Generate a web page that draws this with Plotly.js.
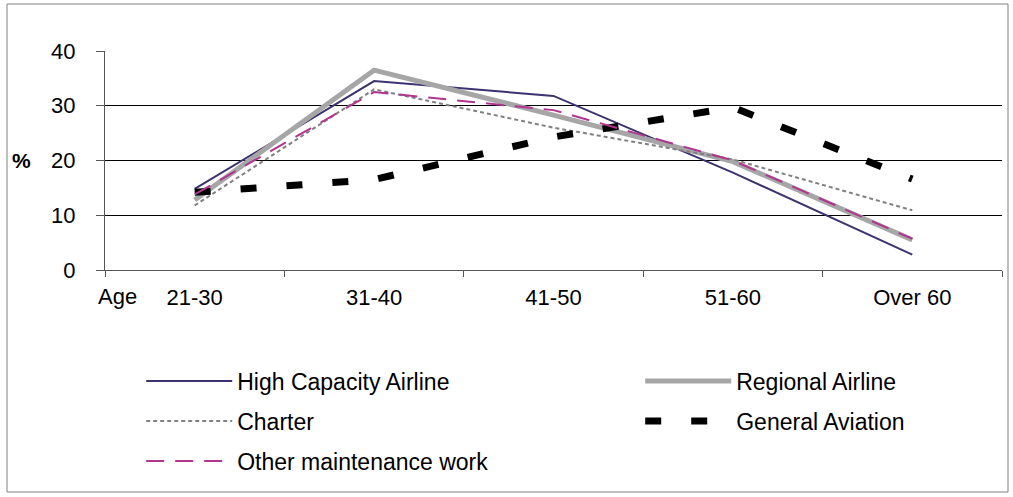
<!DOCTYPE html>
<html>
<head>
<meta charset="utf-8">
<script src="https://cdn.plot.ly/plotly-3.0.1.min.js"></script>
<style>
  html, body { margin: 0; padding: 0; background: #fff; }
  #chart { width: 1013px; height: 497px; }
</style>
</head>
<body>
<div id="chart"></div>
<script>
var ageGroups = ['21-30', '31-40', '41-50', '51-60', 'Over 60'];
var highCapacity = [14.8, 34.5, 31.8, 17.8, 2.8];
var regional = [12.8, 36.5, 28.3, 19.8, 5.5];
var charter = [11.8, 33.0, 26.0, 20.2, 10.9];
var generalAviation = [14.2, 16.5, 24.3, 29.7, 16.6];
var otherMaintenance = [13.8, 32.5, 29.2, 20.0, 5.7];
var yTicks = [0, 10, 20, 30, 40];

var FONT = 'Arial, "Liberation Sans", sans-serif';

var traces = [
  {x: ageGroups, y: highCapacity, name: 'High Capacity Airline', mode: 'lines',
   line: {color: '#3b3370', width: 2}, legend: 'legend'},
  {x: ageGroups, y: regional, name: 'Regional Airline', mode: 'lines',
   line: {color: '#a6a6a6', width: 5}, legend: 'legend'},
  {x: ageGroups, y: charter, name: 'Charter', mode: 'lines',
   line: {color: '#808080', width: 2, dash: '4px,3px'}, legend: 'legend2'},
  {x: ageGroups, y: generalAviation, name: 'General Aviation', mode: 'lines',
   line: {color: '#000000', width: 7, dash: '16px,30px'}, legend: 'legend2'},
  {x: ageGroups, y: otherMaintenance, name: 'Other maintenance work', mode: 'lines',
   line: {color: '#b0358f', width: 2, dash: '18px,11px'}, legend: 'legend3'}
];

function legendCfg(y) {
  return {
    orientation: 'h', x: -0.002, xanchor: 'left', y: y, yanchor: 'middle',
    itemwidth: 86, indentation: 38, entrywidth: 360, entrywidthmode: 'pixels',
    font: {family: FONT, size: 23, color: '#000'}, bgcolor: 'rgba(0,0,0,0)',
    borderwidth: 0, traceorder: 'normal'
  };
}

var layout = {
  width: 1013, height: 497,
  margin: {l: 105, r: 11, t: 51, b: 227, autoexpand: false},
  paper_bgcolor: '#ffffff', plot_bgcolor: '#ffffff',
  font: {family: FONT, size: 22, color: '#000'},
  showlegend: true,
  xaxis: {
    type: 'category', range: [-0.5, 4.5], tickson: 'boundaries',
    ticks: 'outside', ticklen: 6, tickcolor: '#555', tickwidth: 1,
    showline: true, linecolor: '#555', linewidth: 1,
    showgrid: false, zeroline: false, fixedrange: true,
    tickfont: {family: FONT, size: 22, color: '#000'}, ticklabelstandoff: 8
  },
  yaxis: {
    range: [0, 40], tickvals: yTicks, ticktext: yTicks.map(String),
    ticks: 'outside', ticklen: 8, tickcolor: '#555', tickwidth: 1,
    showline: true, linecolor: '#555', linewidth: 1,
    showgrid: true, gridcolor: '#000', gridwidth: 1, zeroline: false, fixedrange: true,
    tickfont: {family: FONT, size: 22, color: '#000'}, ticklabelstandoff: 16
  },
  legend: legendCfg(-0.507),
  legend2: legendCfg(-0.690),
  legend3: legendCfg(-0.872),
  annotations: [
    {text: 'Age', xref: 'paper', yref: 'paper', x: -0.0095, y: -0.121,
     xanchor: 'left', yanchor: 'middle', showarrow: false,
     font: {family: FONT, size: 22, color: '#000'}},
    {text: '<b>%</b>', xref: 'paper', yref: 'paper', x: -0.0936, y: 0.502,
     xanchor: 'center', yanchor: 'middle', showarrow: false,
     font: {family: FONT, size: 21, color: '#000'}}
  ],
  shapes: [
    {type: 'rect', xref: 'paper', yref: 'paper',
     x0: -0.10925, x1: 1.0067, y0: -1.0137, y1: 1.2146,
     line: {color: '#808080', width: 1}, fillcolor: 'rgba(0,0,0,0)', layer: 'below'}
  ]
};

Plotly.newPlot('chart', traces, layout, {displayModeBar: false, staticPlot: true});
</script>
</body>
</html>
